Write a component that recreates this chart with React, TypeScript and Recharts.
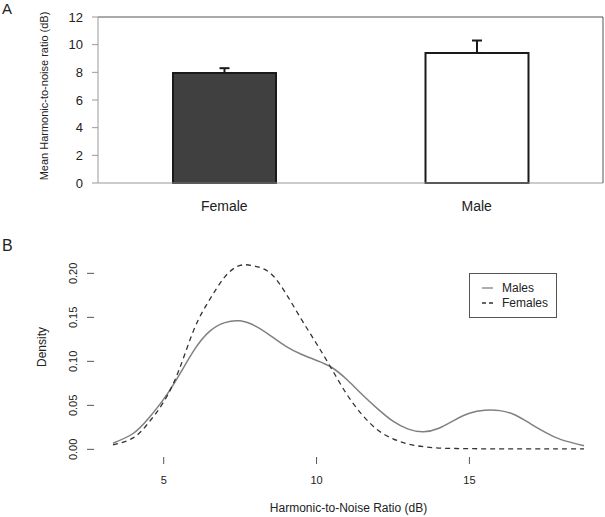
import { Bar, BarChart, Cell, ErrorBar, Legend, Line, LineChart, ReferenceArea, ReferenceLine, XAxis, YAxis } from 'recharts'

// Panel A: mean HNR by sex (error bars drawn upward only)
const sexes = ['Female', 'Male']
const meanHnr = [7.95, 9.4]
const hnrErrUp = [0.35, 0.9]
const barFills = ['#404040', '#ffffff']
const meanTicks = [0, 2, 4, 6, 8, 10, 12]

// Panel B: kernel density estimates
const hnrGrid = [3.34, 4.0, 4.5, 5.0, 5.5, 6.0, 6.5, 7.0, 7.5, 8.0, 8.5, 9.0, 9.5, 10.0, 10.5, 11.0, 11.5, 12.0, 12.5, 13.0, 13.5, 14.0, 14.5, 15.0, 15.5, 16.0, 16.5, 17.0, 17.5, 18.0, 18.75]
const malesDensity = [0.007, 0.018, 0.035, 0.057, 0.084, 0.113, 0.134, 0.144, 0.146, 0.14, 0.129, 0.117, 0.108, 0.101, 0.093, 0.079, 0.062, 0.046, 0.032, 0.023, 0.02, 0.024, 0.033, 0.041, 0.0445, 0.044, 0.039, 0.029, 0.019, 0.011, 0.004]
const femalesDensity = [0.005, 0.013, 0.03, 0.054, 0.09, 0.137, 0.17, 0.196, 0.209, 0.208, 0.2, 0.177, 0.148, 0.12, 0.091, 0.062, 0.039, 0.022, 0.012, 0.006, 0.003, 0.0015, 0.001, 0.0008, 0.0006, 0.0005, 0.0005, 0.0005, 0.0005, 0.0005, 0.0005]
const hnrTicks = [5, 10, 15]
const densityTicks = [0, 0.05, 0.1, 0.15, 0.2]
const legendOrder = ['males', 'females']

const FONT = '"Liberation Sans", Arial, sans-serif'
const INK = '#222'

const barData = sexes.map((sex, i) => ({ sex, mean: meanHnr[i], err: [0, hnrErrUp[i]] }))
const densityData = hnrGrid.map((hnr, i) => ({ hnr, males: malesDensity[i], females: femalesDensity[i] }))

const seriesStyle: Record<string, { stroke: string; dash?: string; width: number }> = {
  males: { stroke: '#808080', width: 1.5 },
  females: { stroke: '#333', dash: '5 4', width: 1.3 },
}

function DensityTick({ x, y, payload }: any) {
  return (
    <text x={x} y={y} transform={`rotate(-90, ${x}, ${y})`} textAnchor="middle" fontSize={11} fill={INK} fontFamily={FONT}>
      {Number(payload.value).toFixed(2)}
    </text>
  )
}

function DensityLegend({ payload }: any) {
  const items = [...(payload || [])].sort((a: any, b: any) => legendOrder.indexOf(a.dataKey) - legendOrder.indexOf(b.dataKey))
  return (
    <div
      style={{
        boxSizing: 'border-box',
        width: 88,
        height: 45,
        border: '1px solid #555',
        background: '#fff',
        padding: '7px 0 0 12px',
        fontFamily: FONT,
        fontSize: 12,
        color: INK,
        textAlign: 'left',
      }}
    >
      {items.map((entry: any) => {
        const s = seriesStyle[entry.dataKey]
        return (
          <div key={entry.dataKey} style={{ display: 'flex', alignItems: 'center', height: 14.5, whiteSpace: 'nowrap' }}>
            <svg width={11} height={6} style={{ flexShrink: 0, marginRight: 9 }}>
              <line x1={0} y1={3} x2={11} y2={3} stroke={s.stroke} strokeWidth={1.3} strokeDasharray={s.dash ? '4 3' : undefined} />
            </svg>
            <span>{entry.value}</span>
          </div>
        )
      })}
    </div>
  )
}

export default function App() {
  return (
    <div style={{ position: 'absolute', left: 0, top: 0, width: 605, height: 517, background: '#fff', fontFamily: FONT }}>
      <div style={{ position: 'absolute', left: 2, top: 0, fontSize: 15, color: INK }}>A</div>
      <div style={{ position: 'absolute', left: 2, top: 237, fontSize: 16, color: INK }}>B</div>

      <div style={{ position: 'absolute', left: 0, top: 0 }}>
        <BarChart width={605} height={225} data={barData} margin={{ top: 17, right: 0, bottom: 0, left: 0 }} barSize={103}>
          <XAxis
            dataKey="sex"
            height={42}
            axisLine={{ stroke: '#999' }}
            tickLine={false}
            tickSize={0}
            tickMargin={18}
            tick={{ fontSize: 14, fill: INK, fontFamily: FONT }}
          />
          <YAxis
            yAxisId="left"
            width={98}
            domain={[0, 12]}
            ticks={meanTicks}
            axisLine={{ stroke: '#999' }}
            tickLine={{ stroke: '#999' }}
            tickSize={6}
            tickMargin={9}
            tick={{ fontSize: 13, fill: INK, fontFamily: FONT }}
            label={(props: any) => {
              const vb = props.viewBox
              const cy = vb.y + vb.height / 2 - 4
              return (
                <text x={48} y={cy} transform={`rotate(-90, 48, ${cy})`} textAnchor="middle" fontSize={11} fill={INK} fontFamily={FONT}>
                  Mean Harmonic-to-noise ratio (dB)
                </text>
              )
            }}
          />
          <YAxis yAxisId="right" orientation="right" width={2} domain={[0, 12]} tick={false} tickLine={false} axisLine={{ stroke: '#555' }} />
          <ReferenceLine yAxisId="left" y={12} stroke="#555" />
          <Bar yAxisId="left" dataKey="mean" stroke="#1a1a1a" strokeWidth={2} isAnimationActive={false}>
            {barData.map((d, i) => (
              <Cell key={d.sex} fill={barFills[i]} />
            ))}
            <ErrorBar dataKey="err" direction="y" width={5} stroke="#1a1a1a" strokeWidth={2} isAnimationActive={false} />
          </Bar>
        </BarChart>
      </div>

      <div style={{ position: 'absolute', left: 0, top: 225 }}>
        <LineChart width={605} height={292} data={densityData} margin={{ top: 12, right: 2, bottom: 0, left: 0 }}>
          <XAxis
            dataKey="hnr"
            type="number"
            height={60}
            domain={[2.72, 19.37]}
            ticks={hnrTicks}
            allowDataOverflow
            axisLine={false}
            tickLine={{ stroke: '#555' }}
            tickSize={7}
            tickMargin={12}
            tick={{ fontSize: 11, fill: INK, fontFamily: FONT }}
            label={(props: any) => {
              const vb = props.viewBox
              return (
                <text x={vb.x + vb.width / 2} y={vb.y + 55} textAnchor="middle" fontSize={12} fill={INK} fontFamily={FONT}>
                  Harmonic-to-Noise Ratio (dB)
                </text>
              )
            }}
          />
          <YAxis
            width={94}
            domain={[-0.0087, 0.2413]}
            ticks={densityTicks}
            allowDataOverflow
            axisLine={false}
            tickLine={{ stroke: '#555' }}
            tickSize={7}
            tickMargin={10}
            tick={<DensityTick />}
            label={(props: any) => {
              const vb = props.viewBox
              const cy = vb.y + vb.height / 2
              return (
                <text x={45.5} y={cy} transform={`rotate(-90, 45.5, ${cy})`} textAnchor="middle" fontSize={12} fill={INK} fontFamily={FONT}>
                  Density
                </text>
              )
            }}
          />
          <ReferenceArea fill="none" stroke="#555" strokeWidth={1} />
          <Legend
            layout="horizontal"
            verticalAlign="middle"
            align="center"
            content={<DensityLegend />}
            wrapperStyle={{ left: 469, top: 48, width: 88, height: 45 }}
          />
          <Line
            dataKey="males"
            name="Males"
            type="natural"
            stroke={seriesStyle.males.stroke}
            strokeWidth={seriesStyle.males.width}
            dot={false}
            isAnimationActive={false}
          />
          <Line
            dataKey="females"
            name="Females"
            type="natural"
            stroke={seriesStyle.females.stroke}
            strokeWidth={seriesStyle.females.width}
            strokeDasharray={seriesStyle.females.dash}
            dot={false}
            isAnimationActive={false}
          />
        </LineChart>
      </div>
    </div>
  )
}
